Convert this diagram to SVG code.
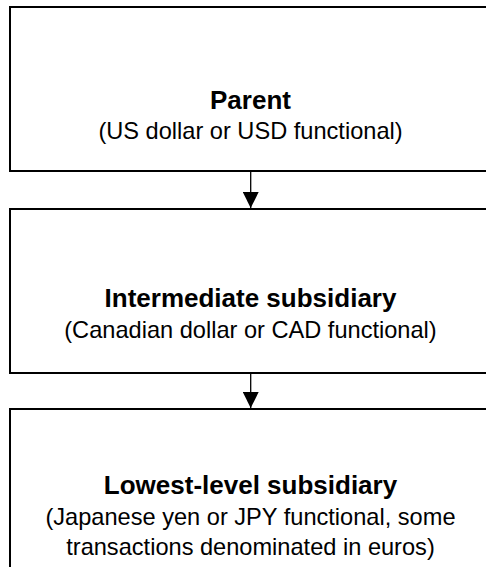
<svg xmlns="http://www.w3.org/2000/svg" width="486" height="567" viewBox="0 0 486 567">
<defs>
<style>
.box{fill:#fff;stroke:#000;stroke-width:2}
.t{font-family:"Liberation Sans",Arial,sans-serif;fill:#000;text-anchor:middle}
.b{font-weight:bold;font-size:26px}
.r{font-size:23.6px}
.ln{stroke:#000;stroke-width:1.3;fill:none}
</style>
<marker id="ah" markerWidth="16" markerHeight="16" viewBox="0 0 16 16" refX="16" refY="8" orient="auto" markerUnits="userSpaceOnUse">
<path d="M0,0 L16,8 L0,16 Z" fill="#000"/>
</marker>
</defs>
<rect width="486" height="567" fill="#fff"/>
<g id="connectors">
<line class="ln" x1="250.7" y1="171" x2="250.7" y2="208" marker-end="url(#ah)"/>
<line class="ln" x1="250.7" y1="373" x2="250.7" y2="408" marker-end="url(#ah)"/>
</g>
<g id="parent">
<rect class="box" x="10" y="7" width="481" height="164"/>
<text class="t b" x="250.5" y="109">Parent</text>
<text class="t r" x="250.5" y="139">(US dollar or USD functional)</text>
</g>
<g id="intermediate">
<rect class="box" x="10" y="209" width="481" height="164"/>
<text class="t b" x="250.5" y="307">Intermediate subsidiary</text>
<text class="t r" x="250.5" y="338">(Canadian dollar or CAD functional)</text>
</g>
<g id="lowest">
<rect class="box" x="10" y="409" width="481" height="170"/>
<text class="t b" x="250.5" y="494">Lowest-level subsidiary</text>
<text class="t r" x="250.5" y="525">(Japanese yen or JPY functional, some</text>
<text class="t r" x="250.5" y="555">transactions denominated in euros)</text>
</g>
</svg>
